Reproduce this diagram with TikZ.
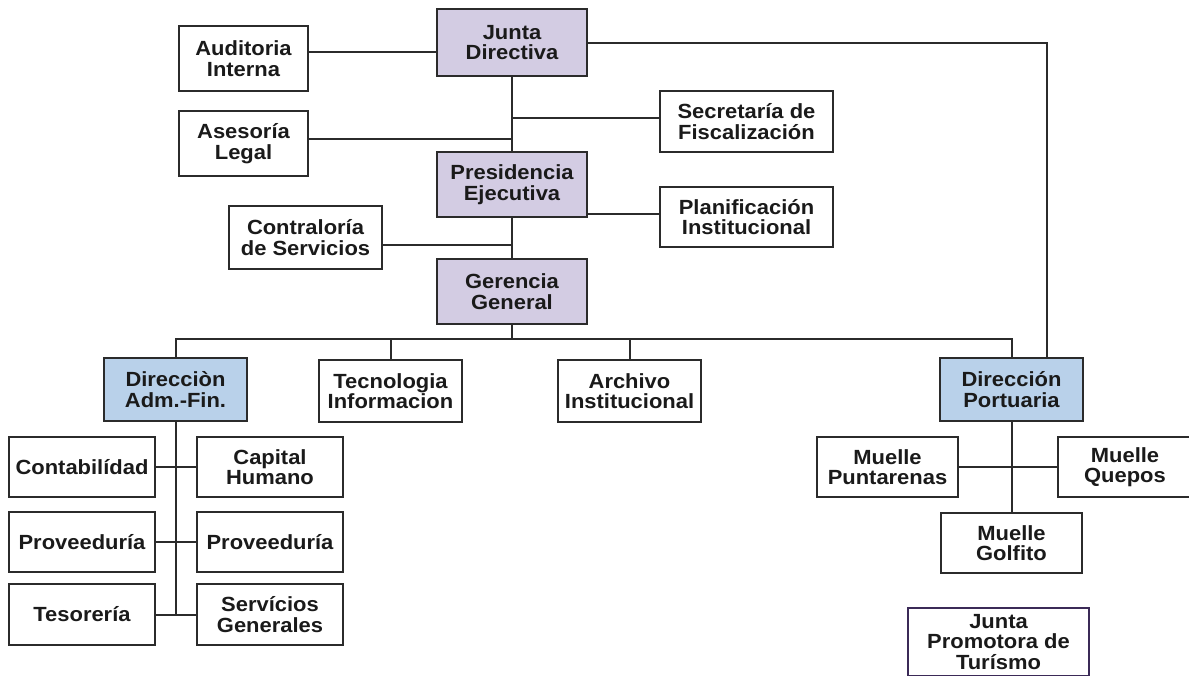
\documentclass[tikz,border=0pt]{standalone}
\usepackage{fontspec}
\setmainfont{Liberation Sans}[FakeStretch=1.07]
\definecolor{lav}{HTML}{D3CCE3}
\definecolor{blu}{HTML}{B9D1EA}
\definecolor{lc}{HTML}{2B2B2B}
\definecolor{txt}{HTML}{1A1A1A}
\definecolor{pur}{HTML}{3B2A57}
\newcommand\boxfont{\fontsize{20.5}{20.5}\selectfont\bfseries}
\begin{document}
\begin{tikzpicture}[x=1pt,y=-1pt,
  box/.style={draw=lc, line width=1.8pt, fill=white, align=center, inner sep=0pt, font=\boxfont, text=txt},
  top/.style={box, fill=lav},
  dir/.style={box, fill=blu},
  ln/.style={draw=lc, line width=2pt}]
\useasboundingbox (0,0) rectangle (1189,675);
\fill[white] (0,0) rectangle (1189,675);
\clip (0,0) rectangle (1189,675);
% junction coordinates
\coordinate (alj) at (512,139);
\coordinate (sfj) at (512,118);
\coordinate (csj) at (512,245);
\coordinate (pij) at (600,214);
\coordinate (bus) at (512,339);
% nodes
\node[top, minimum width=150pt, minimum height=67pt] (JD) at (512,42.5) {Junta\\Directiva};
\node[box, minimum width=129pt, minimum height=65pt] (AI) at (243.5,58.5) {Auditoria\\Interna};
\node[box, minimum width=129pt, minimum height=65pt] (AL) at (243.5,143.5) {Asesoría\\Legal};
\node[box, minimum width=173pt, minimum height=61pt] (SF) at (746.5,121.5) {Secretaría de\\Fiscalización};
\node[top, minimum width=150pt, minimum height=65pt] (PE) at (512,184.5) {Presidencia\\Ejecutiva};
\node[box, minimum width=173pt, minimum height=60pt] (PI) at (746.5,217) {Planificación\\Institucional};
\node[box, minimum width=153pt, minimum height=63pt] (CS) at (305.5,237.5) {Contraloría\\de Servicios};
\node[top, minimum width=150pt, minimum height=65pt] (GG) at (512,291.5) {Gerencia\\General};
\node[dir, minimum width=143pt, minimum height=63pt] (DAF) at (175.5,389.5) {Direcciòn\\Adm.-Fin.};
\node[box, minimum width=143pt, minimum height=62pt] (TI) at (390.5,391) {Tecnologia\\Informacion};
\node[box, minimum width=143pt, minimum height=62pt] (AR) at (629.5,391) {Archivo\\Institucional};
\node[dir, minimum width=143pt, minimum height=63pt] (DP) at (1011.5,389.5) {Dirección\\Portuaria};
\node[box, minimum width=146pt, minimum height=60pt] (CO) at (82,467) {Contabilídad};
\node[box, minimum width=146pt, minimum height=60pt] (CH) at (270,467) {Capital\\Humano};
\node[box, minimum width=146pt, minimum height=60pt] (PL) at (82,542) {Proveeduría};
\node[box, minimum width=146pt, minimum height=60pt] (PR) at (270,542) {Proveeduría};
\node[box, minimum width=146pt, minimum height=61pt] (TE) at (82,614.5) {Tesorería};
\node[box, minimum width=146pt, minimum height=61pt] (SG) at (270,614.5) {Servícios\\Generales};
\node[box, minimum width=141pt, minimum height=60pt] (MP) at (887.5,467) {Muelle\\Puntarenas};
\node[box, minimum width=134pt, minimum height=60pt] (MQ) at (1125,467) {Muelle\\Quepos};
\node[box, minimum width=141pt, minimum height=60pt] (MG) at (1011.5,543) {Muelle\\Golfito};
\node[box, draw=pur, line width=1.5pt, minimum width=181pt, minimum height=68pt] (JP) at (998.5,642) {Junta\\Promotora de\\Turísmo};
% connectors
\draw[ln] ([yshift=6.5pt]AI.east) -- ([yshift=-9.5pt]JD.west);
\draw[ln] (JD.south) -- (PE.north);
\draw[ln] (PE.south) -- (GG.north);
\draw[ln] (AL.east |- alj) -- (alj);
\draw[ln] (sfj) -- (SF.west |- sfj);
\draw[ln] (PE.east |- pij) -- (PI.west |- pij);
\draw[ln] (CS.east |- csj) -- (csj);
\draw[ln] (GG.south) -- (bus);
\draw[ln] (DAF.north) -- (DAF.north |- bus) -- (DP.north |- bus) -- (DP.north);
\draw[ln] (TI.north) -- (TI.north |- bus);
\draw[ln] (AR.north) -- (AR.north |- bus);
\draw[ln] (JD.east) -| ([xshift=35.5pt]DP.north);
\draw[ln] (DAF.south) -- (DAF.south |- TE.east);
\draw[ln] (CO.east) -- (CH.west);
\draw[ln] (PL.east) -- (PR.west);
\draw[ln] (TE.east) -- (SG.west);
\draw[ln] (DP.south) -- (MG.north);
\draw[ln] (MP.east) -- (MQ.west);
\end{tikzpicture}
\end{document}
